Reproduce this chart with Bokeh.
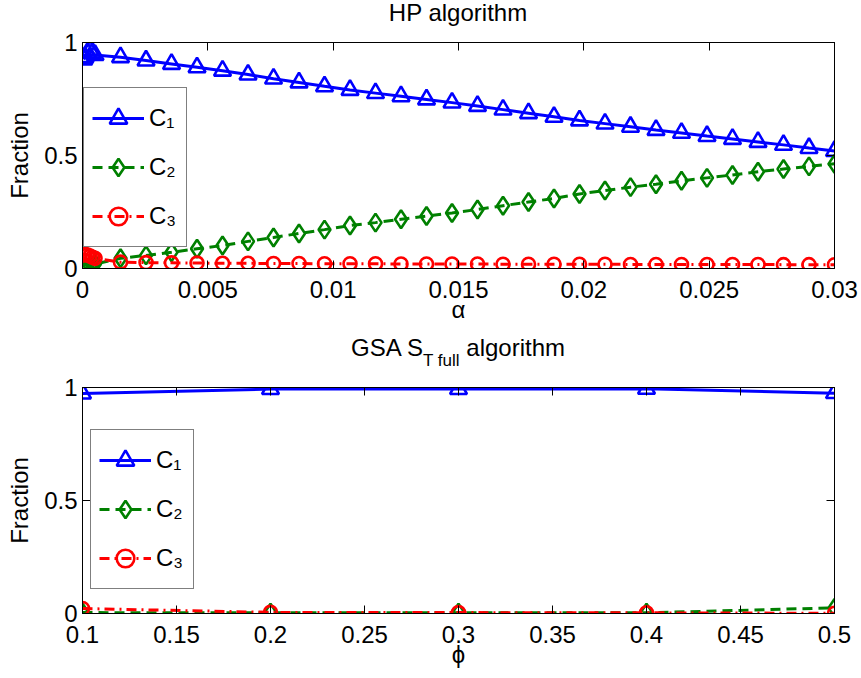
from bokeh.plotting import figure
from bokeh.models import (Legend, LegendItem, FixedTicker, LinearAxis,
                          Range1d, NumeralTickFormatter, Div)
from bokeh.layouts import column
from bokeh.embed import file_html
from bokeh.resources import INLINE

FONT = "Liberation Sans"

# ---------------- data ----------------
alpha = [0.00005, 0.0001, 0.0002, 0.0003, 0.0004,
         0.0005, 0.0015172, 0.0025345, 0.0035517, 0.004569, 0.0055862,
         0.0066034, 0.0076207, 0.008638, 0.0096552, 0.0106724, 0.0116897,
         0.012707, 0.0137241, 0.0147414, 0.0157586, 0.0167759, 0.0177931,
         0.0188103, 0.0198276, 0.0208448, 0.021862, 0.0228793, 0.0238966,
         0.0249138, 0.025931, 0.0269483, 0.0279655, 0.0289828, 0.03]

hp_c1 = [0.925, 0.935, 0.955, 0.965, 0.955,
         0.945, 0.935, 0.92, 0.905, 0.89, 0.875,
         0.858, 0.84, 0.823, 0.806, 0.79, 0.776,
         0.762, 0.748, 0.734, 0.719, 0.703, 0.687,
         0.671, 0.655, 0.641, 0.627, 0.613, 0.6,
         0.586, 0.573, 0.56, 0.547, 0.533, 0.52]

hp_c2 = [0.0, 0.0, 0.005, 0.01, 0.015,
         0.02, 0.045, 0.058, 0.072, 0.087, 0.102,
         0.12, 0.137, 0.155, 0.172, 0.19, 0.203,
         0.218, 0.232, 0.246, 0.261, 0.278, 0.294,
         0.31, 0.33, 0.345, 0.36, 0.373, 0.388,
         0.401, 0.414, 0.428, 0.44, 0.452, 0.463]

hp_c3 = [0.06, 0.063, 0.06, 0.055, 0.05,
         0.045, 0.028, 0.026, 0.025, 0.024, 0.023,
         0.023, 0.022, 0.022, 0.021, 0.021, 0.021,
         0.02, 0.02, 0.02, 0.02, 0.019, 0.019,
         0.019, 0.019, 0.019, 0.018, 0.018, 0.018,
         0.018, 0.018, 0.018, 0.017, 0.017, 0.017]

phi = [0.1, 0.2, 0.3, 0.4, 0.5]
gsa_c1 = [0.973, 0.993, 0.993, 0.994, 0.975]
gsa_c2 = [0.004, 0.003, 0.003, 0.003, 0.025]
gsa_c3 = [0.022, 0.005, 0.004, 0.003, 0.001]

alpha_ticks = [0, 0.005, 0.01, 0.015, 0.02, 0.025, 0.03]
alpha_tick_labels = ["0", "0.005", "0.01", "0.015", "0.02", "0.025", "0.03"]
phi_ticks = [0.1, 0.15, 0.2, 0.25, 0.3, 0.35, 0.4, 0.45, 0.5]
phi_tick_labels = ["0.1", "0.15", "0.2", "0.25", "0.3", "0.35", "0.4", "0.45", "0.5"]
frac_ticks = [0, 0.5, 1]
frac_tick_labels = ["0", "0.5", "1"]

series_names = ["C\u2081", "C\u2082", "C\u2083"]

title_top = "HP algorithm"
title_bottom = ("GSA S", "T full", " algorithm")

# ---------------- layout constants (pixels) ----------------
FW, FH = 752, 226          # frame size
BL, BR = 82, 25            # left / right borders

STYLES = [
    dict(color="#0000ff", dash="solid", marker="triangle", size=17),
    dict(color="#008000", dash="10 6", marker="diamond", size=18),
    dict(color="#ff0000", dash="10 5 2 5", marker="circle", size=13),
]


def style_axis(ax, ticks, labels, fmt, show):
    ax.ticker = FixedTicker(ticks=ticks)
    ax.formatter = NumeralTickFormatter(format=fmt)
    if show:
        ax.major_label_overrides = dict(zip(ticks, labels))
        ax.major_label_text_color = "black"
        ax.major_label_text_font_size = "24px"
    else:
        ax.major_label_text_color = None
        ax.major_label_text_font_size = "1px"
        ax.major_label_standoff = 0
    ax.major_label_text_font = FONT
    ax.major_tick_in = 8
    ax.major_tick_out = 0
    ax.minor_tick_line_color = None
    ax.axis_line_color = "black"
    ax.major_tick_line_color = "black"
    ax.axis_label_text_font = FONT
    ax.axis_label_text_font_size = "24px"
    ax.axis_label_text_font_style = "normal"
    ax.axis_label_text_color = "black"


def build(x, ys, xr, xticks, xlabels, xfmt, xlabel, bt, bb, loc):
    p = figure(frame_width=FW, frame_height=FH,
               x_range=Range1d(*xr), y_range=Range1d(0, 1),
               output_backend="svg", toolbar_location=None, title=None,
               min_border_left=BL, min_border_right=BR,
               min_border_top=bt, min_border_bottom=bb,
               background_fill_color="white", border_fill_color="white",
               outline_line_color="black")
    p.grid.visible = False

    xa = p.below[0]
    ya = p.left[0]
    style_axis(xa, xticks, xlabels, xfmt, True)
    style_axis(ya, frac_ticks, frac_tick_labels, "0.[0]", True)
    xa.major_label_standoff = 12
    ya.major_label_standoff = 5
    xa.axis_label = xlabel
    ya.axis_label = "Fraction"
    xa.axis_label_standoff = -5
    ya.axis_label_standoff = 8

    top_ax = LinearAxis()
    style_axis(top_ax, xticks, xlabels, xfmt, False)
    p.add_layout(top_ax, "above")
    right_ax = LinearAxis()
    style_axis(right_ax, frac_ticks, frac_tick_labels, "0.[0]", False)
    p.add_layout(right_ax, "right")

    items = []
    for yv, st, name in zip(ys, STYLES, series_names):
        ln = p.line(x, yv, line_color=st["color"], line_width=3,
                    line_dash=st["dash"])
        sc = p.scatter(x, yv, marker=st["marker"], size=st["size"],
                       line_color=st["color"], line_width=2.6, fill_color=None)
        items.append(LegendItem(label=name, renderers=[ln, sc]))

    leg = Legend(items=items, location=loc, orientation="vertical",
                 padding=8, spacing=5, margin=0,
                 glyph_width=52, glyph_height=44,
                 label_height=44, label_width=29, label_standoff=5,
                 label_text_font=FONT, label_text_font_size="24px",
                 label_text_color="black",
                 border_line_color="black", border_line_width=1,
                 background_fill_color="white", background_fill_alpha=1.0)
    p.add_layout(leg)
    return p


def title_div(html, h):
    return Div(text=html, width=FW, height=h, margin=(0, 0, 0, BL),
               styles={"font-family": FONT, "font-size": "24px",
                       "line-height": "26px", "text-align": "center",
                       "color": "black", "white-space": "nowrap",
                       "overflow": "visible"})


div_top = title_div(title_top, 30)
top = build(alpha, [hp_c1, hp_c2, hp_c3], (0, 0.03), alpha_ticks,
            alpha_tick_labels, "0.[000]", "α", 12, 67, (1, 21))

div_bottom = title_div(
    f'{title_bottom[0]}<span style="font-size:17px;position:relative;top:10px;">'
    f'{title_bottom[1]}</span>{title_bottom[2]}', 40)
bottom = build(phi, [gsa_c1, gsa_c2, gsa_c3], (0.1, 0.5), phi_ticks,
               phi_tick_labels, "0.[00]", "ϕ", 12, 63, (8, 24))

layout = column(div_top, top, div_bottom, bottom, spacing=0)
open("out.html", "w").write(file_html(layout, INLINE))
